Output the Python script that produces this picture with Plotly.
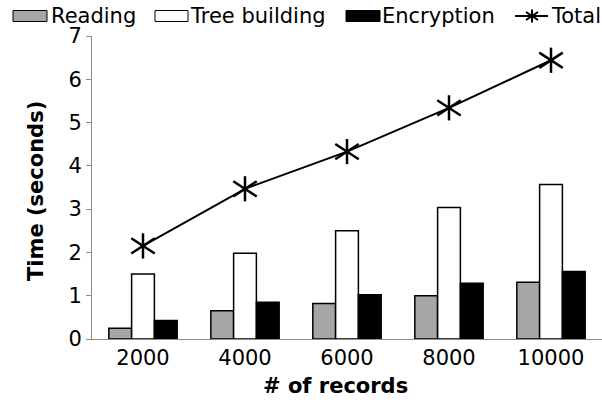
import plotly.graph_objects as go

categories = ["2000", "4000", "6000", "8000", "10000"]
reading = [0.25, 0.65, 0.82, 1.00, 1.31]
tree_building = [1.50, 1.98, 2.50, 3.04, 3.57]
encryption = [0.43, 0.85, 1.02, 1.29, 1.56]
total = [2.15, 3.47, 4.33, 5.34, 6.44]
y_ticks = [0, 1, 2, 3, 4, 5, 6, 7]

W, H = 602, 403
ML, MR, MT, MB = 92, 0, 36, 64
PW, PH = W - ML - MR, H - MT - MB
FONT = "DejaVu Sans"
FS = 21


def px(x):
    return (x - ML) / PW


def py(y):
    return (H - MB - y) / PH


fig = go.Figure()
bar_line = dict(color="black", width=1.5)
fig.add_trace(go.Bar(x=categories, y=reading, name="Reading",
                     marker=dict(color="#a6a6a6", line=bar_line)))
fig.add_trace(go.Bar(x=categories, y=tree_building, name="Tree building",
                     marker=dict(color="white", line=bar_line)))
fig.add_trace(go.Bar(x=categories, y=encryption, name="Encryption",
                     marker=dict(color="black", line=bar_line)))

# Total line with 6-armed star markers (vertical arm + two shallow diagonals)
fig.add_trace(go.Scatter(x=categories, y=total, name="Total", mode="lines+markers",
                         line=dict(color="black", width=2),
                         marker=dict(symbol="line-ns-open", size=18, color="black",
                                     line=dict(color="black", width=2.5))))
for ang in (33, -33):
    fig.add_trace(go.Scatter(x=categories, y=total, mode="markers", showlegend=False,
                             hoverinfo="skip",
                             marker=dict(symbol="line-ew-open", size=20, angle=ang,
                                         color="black",
                                         line=dict(color="black", width=2.5))))

# Custom legend
shapes = []
annotations = []
box_y0, box_y1 = 10.5, 21.5
leg_items = [
    (13, 47, "#a6a6a6", 49, "Reading"),
    (155, 188, "white", 188, "Tree building"),
    (346, 380, "black", 380, "Encryption"),
]
for x0, x1, col, tx, label in leg_items:
    shapes.append(dict(type="rect", xref="paper", yref="paper",
                       x0=px(x0), x1=px(x1), y0=py(box_y1), y1=py(box_y0),
                       fillcolor=col, line=dict(color="black", width=1)))
    annotations.append(dict(x=px(tx), y=py(16.5), xref="paper", yref="paper",
                            text=label, showarrow=False, xanchor="left", yanchor="middle",
                            font=dict(family=FONT, size=FS, color="black")))
# Total legend: line with star
cy = 16
shapes.append(dict(type="line", xref="paper", yref="paper",
                   x0=px(515), x1=px(548), y0=py(cy), y1=py(cy),
                   line=dict(color="black", width=2)))
shapes.append(dict(type="line", xref="paper", yref="paper",
                   x0=px(532), x1=px(532), y0=py(cy - 6.5), y1=py(cy + 6.5),
                   line=dict(color="black", width=2)))
for s in (1, -1):
    shapes.append(dict(type="line", xref="paper", yref="paper",
                       x0=px(526), x1=px(538), y0=py(cy - 4 * s), y1=py(cy + 4 * s),
                       line=dict(color="black", width=2)))
annotations.append(dict(x=px(549), y=py(16.5), xref="paper", yref="paper",
                        text="Total", showarrow=False, xanchor="left", yanchor="middle",
                        font=dict(family=FONT, size=FS, color="black")))

# Axis titles
annotations.append(dict(x=px(335), y=py(386), xref="paper", yref="paper",
                        text="<b># of records</b>", showarrow=False,
                        xanchor="center", yanchor="middle",
                        font=dict(family=FONT, size=FS, color="black")))
annotations.append(dict(x=px(36), y=py(191), xref="paper", yref="paper",
                        text="<b>Time (seconds)</b>", showarrow=False, textangle=-90,
                        xanchor="center", yanchor="middle",
                        font=dict(family=FONT, size=FS, color="black")))

fig.update_layout(
    width=W, height=H,
    margin=dict(l=ML, r=MR, t=MT, b=MB),
    paper_bgcolor="white", plot_bgcolor="white",
    barmode="group", bargap=0.33, bargroupgap=0,
    showlegend=False,
    shapes=shapes, annotations=annotations,
    font=dict(family=FONT, size=FS, color="black"),
    xaxis=dict(type="category", range=[-0.5, 4.5], showgrid=False, zeroline=False,
               showline=True, linecolor="#8c8c8c", linewidth=1,
               ticks="", ticklen=0,
               tickfont=dict(family=FONT, size=FS, color="black")),
    yaxis=dict(range=[0, 7], tickvals=y_ticks, showgrid=False, zeroline=False,
               showline=True, linecolor="#8c8c8c", linewidth=1,
               ticks="outside", ticklen=5, tickcolor="#8c8c8c",
               tickfont=dict(family=FONT, size=FS, color="black")),
)

fig.write_html("out.html", config={"displayModeBar": False},
               post_script="document.body.style.margin='0';")
